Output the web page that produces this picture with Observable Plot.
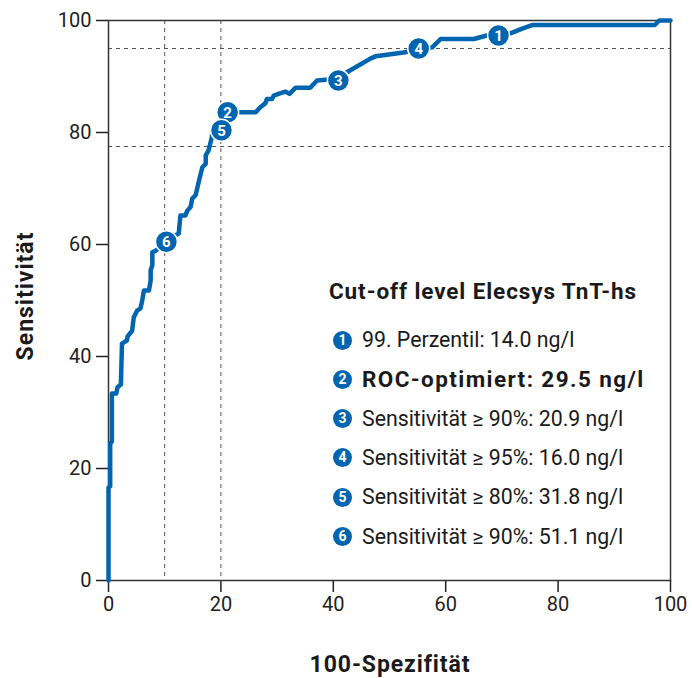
<!DOCTYPE html>
<html><head><meta charset="utf-8">
<script src="https://cdn.jsdelivr.net/npm/d3@7"></script>
<script src="https://cdn.jsdelivr.net/npm/@observablehq/plot@0.6"></script>
<style>
body{margin:0;background:#fff;}
#wrap{position:relative;width:692px;height:678px;font-family:Roboto,sans-serif;color:#1a1a1a;}
#legend{position:absolute;left:329px;top:276px;}
#legend .title{position:absolute;left:0;top:0;white-space:nowrap;font-weight:bold;font-size:22.5px;letter-spacing:0.9px;line-height:30px;}
#legend .item{position:absolute;left:4px;white-space:nowrap;font-size:21.3px;line-height:28px;display:flex;align-items:center;}
#legend .badge{display:inline-block;width:19px;height:19px;border-radius:50%;background:#0065b1;color:#fff;font-weight:bold;font-size:14px;line-height:19px;text-align:center;margin-right:10px;letter-spacing:0;}
</style></head><body><div id="wrap"></div>
<script>
// ROC curve (x = 100 - Spezifität, y = Sensitivität)
const fpr = [0, 0, 0.3, 0.3, 0.6, 0.6, 1.4, 1.6, 2.2, 2.4, 3.3, 3.4, 4.2, 4.5, 5.1, 5.7, 6.0, 6.3, 7.2, 7.5, 7.5, 7.8, 7.8, 8.4, 10.3, 12.5, 12.8, 13.7, 14.0, 14.6, 14.9, 15.5, 16.1, 16.7, 17.3, 17.3, 17.8, 18.1, 18.4, 18.5, 21.2, 23.5, 26.2, 27.0, 27.9, 28.2, 29.1, 29.4, 30.5, 31.5, 32.2, 33.3, 35.9, 37.1, 38.6, 40.9, 42.5, 46.6, 47.5, 52.5, 55.2, 57.6, 59.1, 65.0, 68.0, 69.4, 71.5, 73.5, 75.5, 97.2, 98.0, 100];
const tpr = [0, 16.6, 16.8, 24.5, 24.8, 33.4, 33.4, 34.5, 35.0, 42.3, 42.9, 43.6, 44.6, 47.0, 48.2, 48.6, 50.0, 51.8, 51.8, 53.6, 55.4, 56.3, 58.6, 58.9, 60.5, 62.0, 65.2, 65.2, 66.0, 66.7, 68.2, 68.8, 71.4, 73.8, 74.4, 75.9, 76.8, 78.0, 79.2, 80.7, 83.6, 83.6, 83.6, 84.5, 85.2, 86.0, 86.0, 86.6, 87.0, 87.3, 86.9, 88.0, 88.0, 89.3, 89.4, 89.4, 90.8, 93.2, 93.6, 94.3, 94.8, 95.2, 96.7, 96.7, 97.5, 97.4, 97.7, 98.5, 99.2, 99.2, 100, 100];

// cut-off markers
const cutoffIds = [1, 2, 3, 4, 5, 6];
const cutoffX = [69.4, 21.2, 40.9, 55.2, 20.1, 10.3];
const cutoffY = [97.3, 83.6, 89.3, 95.0, 80.4, 60.5];
const cutoffLabels = [
  "99. Perzentil: 14.0 ng/l",
  "ROC-optimiert: 29.5 ng/l",
  "Sensitivität ≥ 90%: 20.9 ng/l",
  "Sensitivität ≥ 95%: 16.0 ng/l",
  "Sensitivität ≥ 80%: 31.8 ng/l",
  "Sensitivität ≥ 90%: 51.1 ng/l"
];
const cutoffBold = [false, true, false, false, false, false];
const legendTitle = "Cut-off level Elecsys TnT-hs";

// dashed reference lines
const refX = [10, 20];
const refY = [95, 77.5];

const xTicks = [0, 20, 40, 60, 80, 100];
const yTicks = [0, 20, 40, 60, 80, 100];
const xTitle = "100-Spezifität";
const yTitle = "Sensitivität";

const blue = "#0065b1";
const curve = fpr.map((x, i) => ({x, y: tpr[i]}));
const cutoffs = cutoffIds.map((id, i) => ({id: String(id), x: cutoffX[i], y: cutoffY[i]}));

const plot = Plot.plot({
  width: 692, height: 678,
  marginTop: 20, marginBottom: 98, marginLeft: 108, marginRight: 22,
  style: {fontFamily: "Roboto, sans-serif", fontSize: "20px", color: "#222", background: "#fff"},
  x: {domain: [0, 100]},
  y: {domain: [0, 100]},
  marks: [
    Plot.ruleX(refX, {stroke: "#555", strokeWidth: 1, strokeDasharray: "4,4"}),
    Plot.ruleY(refY, {stroke: "#555", strokeWidth: 1, strokeDasharray: "4,4"}),
    Plot.axisX({ticks: xTicks, tickSize: 12, tickPadding: 4, label: null, strokeWidth: 1.5}),
    Plot.axisY({ticks: yTicks, tickSize: 12, tickPadding: 5, label: null, strokeWidth: 1.5}),
    Plot.frame({stroke: "#333", strokeWidth: 1.5}),
    Plot.line(curve, {x: "x", y: "y", stroke: blue, strokeWidth: 4.5, strokeLinejoin: "round", strokeLinecap: "round"}),
    Plot.dot(cutoffs, {x: "x", y: "y", r: 11, fill: blue, stroke: "#fff", strokeWidth: 1.5}),
    Plot.text(cutoffs, {x: "x", y: "y", text: "id", fill: "#fff", fontWeight: "bold", fontSize: 15, fontFamily: "Roboto, sans-serif", dy: 0.5})
  ]
});

const svg = d3.select(plot);
svg.append("text").attr("x", 390).attr("y", 672).attr("text-anchor", "middle")
  .attr("font-weight", "bold").attr("font-size", 23).attr("letter-spacing", "0.9px").attr("fill", "#1a1a1a").text(xTitle);
svg.append("text").attr("transform", "translate(33,296) rotate(-90)").attr("text-anchor", "middle")
  .attr("font-weight", "bold").attr("font-size", 23).attr("letter-spacing", "1px").attr("fill", "#1a1a1a").text(yTitle);

const wrap = document.getElementById("wrap");
wrap.appendChild(plot);
const legend = d3.select(wrap).append("div").attr("id", "legend");
legend.append("div").attr("class", "title").text(legendTitle);
cutoffLabels.forEach((lab, i) => {
  const it = legend.append("div").attr("class", "item").style("top", (50 + i * 39.3) + "px");
  it.append("span").attr("class", "badge").text(cutoffIds[i]);
  it.append("span").style("font-weight", cutoffBold[i] ? "bold" : "normal")
    .style("font-size", cutoffBold[i] ? "22.5px" : null)
    .style("letter-spacing", cutoffBold[i] ? "1.4px" : null).text(lab);
});
</script></body></html>
